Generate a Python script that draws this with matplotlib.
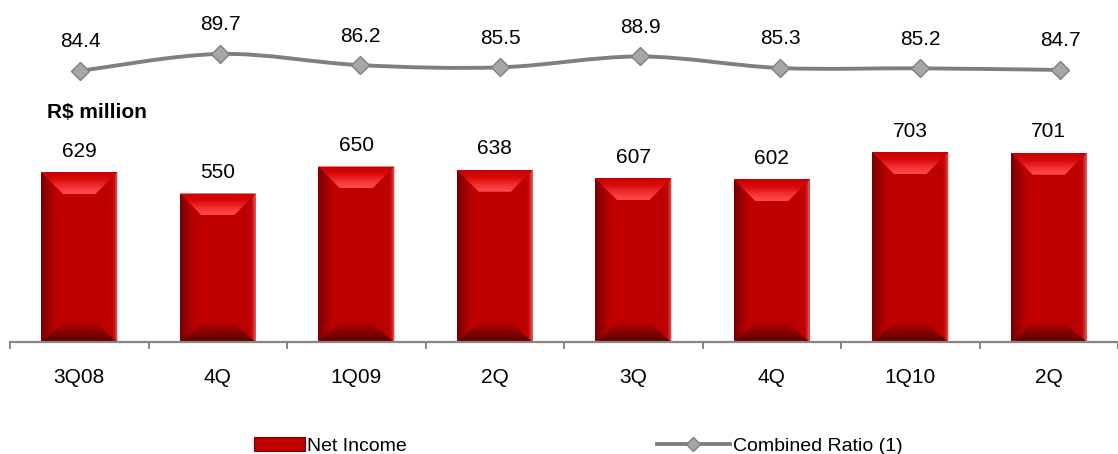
import numpy as np
import matplotlib
matplotlib.use("Agg")
import matplotlib.pyplot as plt
from matplotlib.patches import Polygon, Rectangle, PathPatch
from matplotlib.path import Path
from matplotlib.lines import Line2D
from matplotlib.colors import LinearSegmentedColormap

plt.rcParams['font.family'] = ['Liberation Sans', 'DejaVu Sans']

categories = ["3Q08", "4Q", "1Q09", "2Q", "3Q", "4Q", "1Q10", "2Q"]
net_income = [629, 550, 650, 638, 607, 602, 703, 701]
combined_ratio = [84.4, 89.7, 86.2, 85.5, 88.9, 85.3, 85.2, 84.7]
unit_label = "R$ million"
legend_bar = "Net Income"
legend_line = "Combined Ratio (1)"

FS = 15
W, H = 1118, 454
fig = plt.figure(figsize=(W / 100, H / 100), dpi=100)

# ---- bar axes ----
ax_left_px, ax_right_px = 10, 1118
base_px, top_px = 342, 140
ax = fig.add_axes([ax_left_px / W, (H - base_px) / H,
                   (ax_right_px - ax_left_px) / W, (base_px - top_px) / H])
px_per_cat = 140.0
xlim_r = -0.5 + (ax_right_px - ax_left_px) / px_per_cat
px_per_unit = 0.27
ylim_t = (base_px - top_px) / px_per_unit
ax.patch.set_visible(False)

x = np.arange(len(categories))
bw = 0.55
bars = ax.bar(x, net_income, width=bw, color="#C00000", edgecolor="none", zorder=2)

cm_top = LinearSegmentedColormap.from_list("t", ["#C80000", "#D80808", "#F23030", "#FF4C4C"])
cm_bot = LinearSegmentedColormap.from_list("b", ["#5A0000", "#860000", "#B00000"])
cm_left = LinearSegmentedColormap.from_list("l", ["#740000", "#9C0000", "#BA0000", "#C00000"])
cm_right = LinearSegmentedColormap.from_list(
    "r", [(0.0, "#C00000"), (0.55, "#BA0000"), (0.8, "#C40606"), (0.9, "#D42A2A"), (1.0, "#E07070")])

dx = 22 / px_per_cat
dy_top = 22 / px_per_unit
dy_bot = 19 / px_per_unit
grad = np.linspace(0, 1, 64)
for b in bars:
    x0, w, h = b.get_x(), b.get_width(), b.get_height()
    x1 = x0 + w
    regions = [
        ([(x0, h), (x1, h), (x1 - dx, h - dy_top), (x0 + dx, h - dy_top)],
         cm_top, grad[::-1].reshape(-1, 1), (x0, x1, h - dy_top, h)),
        ([(x0, 0), (x1, 0), (x1 - dx, dy_bot), (x0 + dx, dy_bot)],
         cm_bot, grad.reshape(-1, 1), (x0, x1, 0, dy_bot)),
        ([(x0, 0), (x0, h), (x0 + dx, h - dy_top), (x0 + dx, dy_bot)],
         cm_left, grad.reshape(1, -1), (x0, x0 + dx, 0, h)),
        ([(x1, 0), (x1, h), (x1 - dx, h - dy_top), (x1 - dx, dy_bot)],
         cm_right, grad.reshape(1, -1), (x1 - dx, x1, 0, h)),
    ]
    for verts, cmap, arr, ext in regions:
        poly = Polygon(verts, closed=True, facecolor="none", edgecolor="none",
                       transform=ax.transData)
        ax.add_patch(poly)
        im = ax.imshow(arr, cmap=cmap, extent=ext, origin="lower",
                       aspect="auto", zorder=3, interpolation="bilinear")
        im.set_clip_path(poly)
    ax.annotate(f"{h:.0f}", (b.get_x() + w / 2, h), xytext=(0, 11),
                textcoords="offset points", ha="center", va="baseline",
                fontsize=FS, color="#000000", zorder=5)

ax.set_xlim(-0.5, xlim_r)
ax.set_ylim(0, ylim_t)

for s in ["left", "right", "top"]:
    ax.spines[s].set_visible(False)
ax.spines["bottom"].set_color("#868686")
ax.spines["bottom"].set_linewidth(1.6)
ax.spines["bottom"].set_zorder(4)
ax.set_yticks([])
ax.set_xticks(x)
ax.set_xticklabels(categories, fontsize=FS)
ax.set_xticks(np.arange(-0.5, len(categories), 1.0), minor=True)
ax.tick_params(axis="x", which="major", length=0, pad=19)
ax.tick_params(axis="x", which="minor", length=5, width=1.4, color="#868686",
               direction="out")

fig.text(47 / W, (H - 112) / H, unit_label, fontsize=FS, fontweight="bold",
         va="center", ha="left")

# ---- line axes ----
lt_px, lb_px = 20, 100
ax2 = fig.add_axes([ax_left_px / W, (H - lb_px) / H,
                    (ax_right_px - ax_left_px) / W, (lb_px - lt_px) / H])
ax2.set_xlim(-0.5, xlim_r)
ax2.set_ylim(75.3, 100.3)
ax2.axis("off")

pts = np.column_stack([x.astype(float), np.array(combined_ratio, float)])
ext_pts = np.vstack([pts[0], pts, pts[-1]])
verts = [tuple(pts[0])]
codes = [Path.MOVETO]
for i in range(len(pts) - 1):
    p_prev, p0, p1, p_next = ext_pts[i], ext_pts[i + 1], ext_pts[i + 2], ext_pts[i + 3]
    c1 = p0 + (p1 - p_prev) / 6.0
    c2 = p1 - (p_next - p0) / 6.0
    verts += [tuple(c1), tuple(c2), tuple(p1)]
    codes += [Path.CURVE4] * 3
ax2.add_patch(PathPatch(Path(verts, codes), facecolor="none",
                        edgecolor="#7F7F7F", linewidth=2.8, zorder=2,
                        capstyle="round"))
ax2.plot(x, combined_ratio, linestyle="none", marker="D", markersize=9.5,
         markerfacecolor="#A6A6A6", markeredgecolor="#7F7F7F",
         markeredgewidth=1.0, zorder=3)
for xi, v in zip(x, combined_ratio):
    ax2.annotate(f"{v:.1f}", (xi, v), xytext=(0, 17), textcoords="offset points",
                 ha="center", va="baseline", fontsize=FS, annotation_clip=False)

# ---- legends ----
bar_handle = Rectangle((0, 0), 1, 1, facecolor="#C00000", edgecolor="#7A0000",
                       linewidth=0.8)
line_handle = Line2D([], [], color="#7F7F7F", linewidth=2.8, marker="D",
                     markersize=7.5, markerfacecolor="#A6A6A6",
                     markeredgecolor="#7F7F7F")
leg_y = (H - 446) / H
l1 = fig.legend([bar_handle], [legend_bar], loc="center left",
                bbox_to_anchor=(254 / W, leg_y), frameon=False, fontsize=14,
                borderpad=0, borderaxespad=0, handlelength=2.6,
                handleheight=0.7, handletextpad=0.15)
l2 = fig.legend([line_handle], [legend_line], loc="center left",
                bbox_to_anchor=(657 / W, leg_y), frameon=False, fontsize=14,
                borderpad=0, borderaxespad=0, handlelength=3.75,
                handletextpad=0.15)

fig.savefig("out.png", dpi=100)
